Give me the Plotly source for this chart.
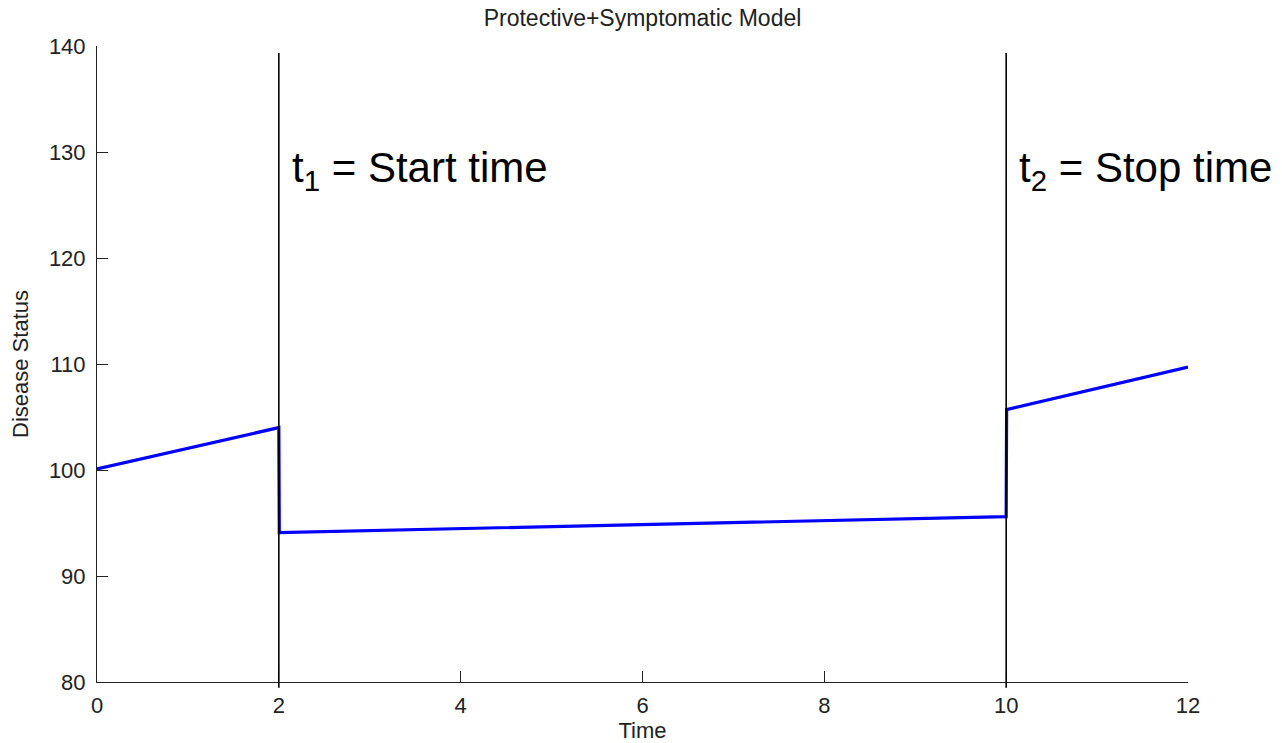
import plotly.graph_objects as go

# Disease status trajectory (time, value)
time = [0, 2, 2.005, 10, 10.005, 12]
status = [100.1, 104.0, 94.1, 95.6, 105.7, 109.7]

# Treatment start/stop markers
event_times = [2, 10]
event_labels = ["t<sub>1</sub> = Start time", "t<sub>2</sub> = Stop time"]

x_ticks = [0, 2, 4, 6, 8, 10, 12]
y_ticks = [80, 90, 100, 110, 120, 130, 140]

FONT = "Liberation Sans, Arial, sans-serif"

fig = go.Figure()

fig.add_trace(go.Scatter(
    x=time, y=status, mode="lines",
    line=dict(color="#0000ff", width=3.2),
    showlegend=False, hoverinfo="skip",
))

for t, label in zip(event_times, event_labels):
    fig.add_shape(
        type="line", xref="x", yref="paper",
        x0=t, x1=t, y0=-0.009, y1=0.989,
        line=dict(color="black", width=1.6),
        layer="above",
    )
    fig.add_annotation(
        x=t, y=128.3, xref="x", yref="y",
        text=label, showarrow=False,
        xanchor="left", yanchor="middle", xshift=11,
        font=dict(family=FONT, size=42, color="black"),
    )

axis_common = dict(
    showline=True, linecolor="#222", linewidth=1,
    ticks="inside", ticklen=11, tickwidth=1, tickcolor="#222",
    showgrid=False, zeroline=False, mirror=False, automargin=False,
    tickfont=dict(family=FONT, size=22, color="#222"),
)

fig.update_layout(
    width=1282, height=743,
    margin=dict(l=97, r=94, t=46, b=61, autoexpand=False),
    paper_bgcolor="white", plot_bgcolor="white",
    title=dict(
        text="Protective+Symptomatic Model",
        x=(97 + 1188) / 2 / 1282, xanchor="center",
        y=1 - 18 / 743, yanchor="middle",
        font=dict(family=FONT, size=23, color="#222"),
    ),
    xaxis=dict(
        range=[0, 12], tickvals=x_ticks,
        title=dict(text="Time", font=dict(family=FONT, size=22, color="#222"), standoff=10),
        ticklabelstandoff=4,
        **axis_common,
    ),
    yaxis=dict(
        range=[80, 140], tickvals=y_ticks,
        title=dict(text="Disease Status", font=dict(family=FONT, size=22, color="#222"), standoff=14),
        ticklabelstandoff=6,
        **axis_common,
    ),
)

fig.write_html("out.html")
